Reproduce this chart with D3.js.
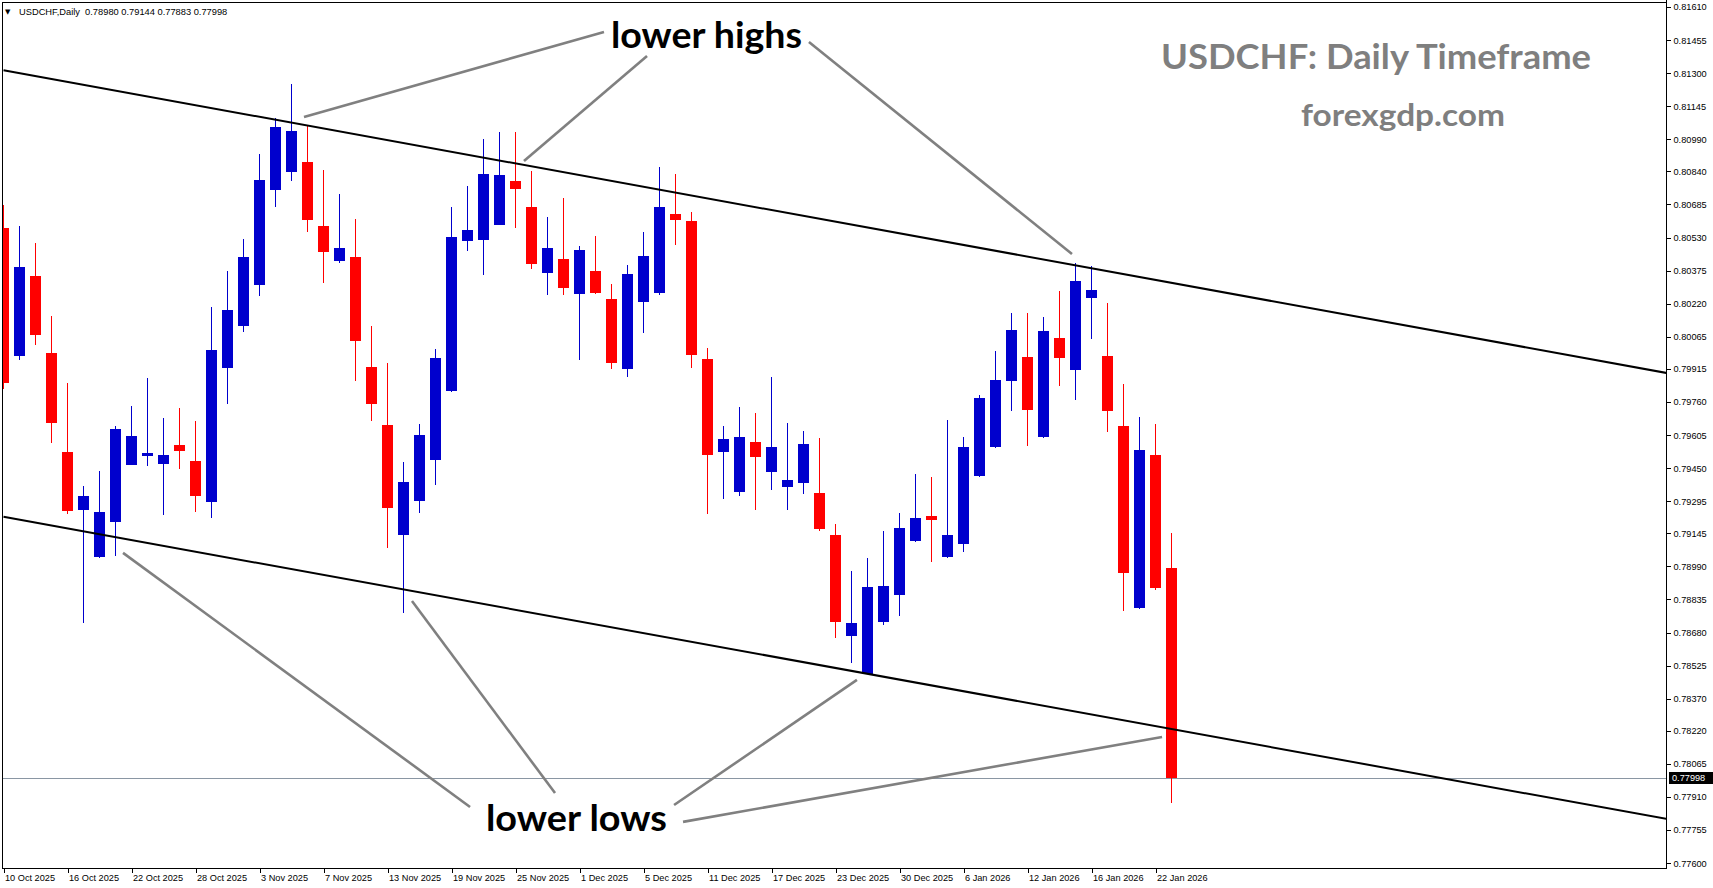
<!DOCTYPE html>
<html><head><meta charset="utf-8">
<script src="https://cdn.jsdelivr.net/npm/d3@7"></script>
<style>html,body{margin:0;padding:0;background:#fff;overflow:hidden}</style>
</head><body>
<svg id="c" width="1713" height="888"></svg>
<script>
// ---------------- data ----------------
const symbol = "USDCHF,Daily";
const dates = ["10 Oct 2025","13 Oct 2025","14 Oct 2025","15 Oct 2025","16 Oct 2025","17 Oct 2025","20 Oct 2025","21 Oct 2025","22 Oct 2025","23 Oct 2025",
"24 Oct 2025","27 Oct 2025","28 Oct 2025","29 Oct 2025","30 Oct 2025","31 Oct 2025","3 Nov 2025","4 Nov 2025","5 Nov 2025","6 Nov 2025",
"7 Nov 2025","10 Nov 2025","11 Nov 2025","12 Nov 2025","13 Nov 2025","14 Nov 2025","17 Nov 2025","18 Nov 2025","19 Nov 2025","20 Nov 2025",
"21 Nov 2025","24 Nov 2025","25 Nov 2025","26 Nov 2025","27 Nov 2025","28 Nov 2025","1 Dec 2025","2 Dec 2025","3 Dec 2025","4 Dec 2025",
"5 Dec 2025","8 Dec 2025","9 Dec 2025","10 Dec 2025","11 Dec 2025","12 Dec 2025","15 Dec 2025","16 Dec 2025","17 Dec 2025","18 Dec 2025",
"19 Dec 2025","22 Dec 2025","23 Dec 2025","24 Dec 2025","26 Dec 2025","29 Dec 2025","30 Dec 2025","31 Dec 2025","2 Jan 2026","5 Jan 2026",
"6 Jan 2026","7 Jan 2026","8 Jan 2026","9 Jan 2026","12 Jan 2026","13 Jan 2026","14 Jan 2026","15 Jan 2026","16 Jan 2026","19 Jan 2026",
"20 Jan 2026","21 Jan 2026","22 Jan 2026","23 Jan 2026"];
const open = [0.80575,0.79975,0.80350,0.79989,0.79526,0.79254,0.79034,0.79198,0.79465,0.79507,
0.79469,0.79558,0.79483,0.79291,0.79919,0.80116,0.80308,0.80753,0.80837,0.80884,
0.80584,0.80420,0.80439,0.79924,0.79652,0.79137,0.79296,0.79488,0.79811,0.80514,
0.80519,0.80589,0.80795,0.80673,0.80364,0.80430,0.80266,0.80373,0.80242,0.79914,
0.80228,0.80270,0.80640,0.80608,0.79961,0.79526,0.79338,0.79572,0.79432,0.79362,
0.79380,0.79334,0.79137,0.78664,0.78486,0.78729,0.78856,0.79109,0.79226,0.79034,
0.79095,0.79413,0.79549,0.79858,0.79971,0.79596,0.80060,0.79910,0.80247,0.79975,
0.79647,0.78795,0.79512,0.78980];
const high = [0.80683,0.80584,0.80505,0.80163,0.79849,0.79366,0.79437,0.79647,0.79741,0.79872,
0.79685,0.79732,0.79671,0.80205,0.80373,0.80523,0.80921,0.81090,0.81249,0.81053,
0.80847,0.80734,0.80617,0.80116,0.79943,0.79479,0.79657,0.80008,0.80673,0.80772,
0.80992,0.81025,0.81025,0.80842,0.80626,0.80715,0.80491,0.80538,0.80313,0.80402,
0.80556,0.80861,0.80828,0.80650,0.80013,0.79647,0.79736,0.79708,0.79877,0.79661,
0.79624,0.79591,0.79188,0.78968,0.79029,0.79156,0.79240,0.79423,0.79409,0.79676,
0.79596,0.79793,0.79999,0.80177,0.80177,0.80158,0.80280,0.80411,0.80397,0.80224,
0.79844,0.79690,0.79657,0.79144];
const low = [0.79821,0.79957,0.80027,0.79568,0.79235,0.78725,0.79030,0.79039,0.79463,0.79460,
0.79231,0.79446,0.79245,0.79216,0.79750,0.80088,0.80256,0.80673,0.80795,0.80556,
0.80317,0.80411,0.79858,0.79671,0.79076,0.78772,0.79240,0.79371,0.79808,0.80467,
0.80355,0.80587,0.80575,0.80383,0.80261,0.80261,0.79957,0.80266,0.79914,0.79877,
0.80083,0.80261,0.80495,0.79919,0.79235,0.79305,0.79320,0.79254,0.79348,0.79254,
0.79329,0.79156,0.78654,0.78537,0.78484,0.78715,0.78758,0.79105,0.79010,0.79029,
0.79057,0.79410,0.79545,0.79718,0.79554,0.79592,0.79835,0.79769,0.80055,0.79619,
0.78781,0.78790,0.78879,0.77883];
const close = [0.79849,0.80392,0.80074,0.79661,0.79249,0.79320,0.79245,0.79633,0.79601,0.79521,
0.79512,0.79530,0.79320,0.80003,0.80191,0.80439,0.80800,0.81048,0.81029,0.80612,
0.80462,0.80481,0.80046,0.79750,0.79263,0.79385,0.79605,0.79966,0.80533,0.80565,
0.80828,0.80823,0.80758,0.80406,0.80481,0.80294,0.80472,0.80270,0.79943,0.80359,
0.80444,0.80673,0.80612,0.79980,0.79512,0.79587,0.79596,0.79502,0.79549,0.79394,
0.79563,0.79165,0.78729,0.78725,0.78893,0.78898,0.79170,0.79216,0.79207,0.79137,
0.79549,0.79779,0.79863,0.80097,0.79722,0.80092,0.79966,0.80327,0.80284,0.79718,
0.78959,0.79535,0.78889,0.77998];
const priceTicks = ["0.81610","0.81455","0.81300","0.81145","0.80990","0.80840","0.80685","0.80530","0.80375",
"0.80220","0.80065","0.79915","0.79760","0.79605","0.79450","0.79295","0.79145","0.78990","0.78835",
"0.78680","0.78525","0.78370","0.78220","0.78065","0.77910","0.77755","0.77600"];
const dateTickEvery = 4;
// channel lines: [bar index, price]
const upperChannel = [[0, 0.81314], [104, 0.79895]];
const lowerChannel = [[0, 0.79222], [104, 0.77806]];
// annotations
const highsLabel = {text: "lower highs", i: 43.94, p: 0.81418, width: 191};
const lowsLabel = {text: "lower lows", i: 35.81, p: 0.77750, width: 181};
const highsPointers = [
  [[37.53, 0.81493], [18.78, 0.81095]],
  [[40.22, 0.81381], [32.53, 0.80889]],
  [[50.34, 0.81446], [66.78, 0.80453]]
];
const lowsPointers = [
  [[7.47, 0.79053], [29.16, 0.77863]],
  [[25.53, 0.78828], [34.47, 0.77928]],
  [[53.34, 0.78458], [41.91, 0.77872]],
  [[72.41, 0.78191], [42.47, 0.77793]]
];
const watermark1 = "USDCHF: Daily Timeframe";
const watermark2 = "forexgdp.com";

// ---------------- layout ----------------
const W = 1713, H = 888;
const P = {left: 2, right: 1666, top: 2, bottom: 868};
const bull = "#0000CD", bear = "#FF0000";
const axisFont = "'Liberation Sans', Arial, sans-serif";

const svg = d3.select("#c");
svg.append("rect").attr("width", W).attr("height", H).attr("fill", "#fff");

const x = d3.scaleLinear().domain([0, dates.length - 1]).range([3.5, 3.5 + 16 * (dates.length - 1)]);
const y = d3.scaleLinear().domain([0.77600, 0.81610]).range([863.1, 7.0]);

svg.append("clipPath").attr("id", "plotclip").append("rect")
  .attr("x", P.left).attr("y", P.top).attr("width", P.right - P.left).attr("height", P.bottom - P.top);

const plot = svg.append("g").attr("clip-path", "url(#plotclip)");

// current price line
const last = dates.length - 1;
plot.append("line")
  .attr("x1", P.left).attr("x2", P.right)
  .attr("y1", Math.round(y(close[last])) + 0.5).attr("y2", Math.round(y(close[last])) + 0.5)
  .attr("stroke", "#8a96a3").attr("stroke-width", 1);

// candles
const data = dates.map((d, i) => ({i, d, o: open[i], h: high[i], l: low[i], c: close[i]}));
const cg = plot.append("g").attr("shape-rendering", "crispEdges");
cg.selectAll("rect.wick").data(data).join("rect").attr("class", "wick")
  .attr("x", d => Math.floor(x(d.i)))
  .attr("width", 1)
  .attr("y", d => Math.round(y(d.h)))
  .attr("height", d => Math.max(1, Math.round(y(d.l)) - Math.round(y(d.h))))
  .attr("fill", d => d.c >= d.o ? bull : bear);
cg.selectAll("rect.body").data(data).join("rect").attr("class", "body")
  .attr("x", d => x(d.i) - 5.5)
  .attr("width", 11)
  .attr("y", d => Math.round(y(Math.max(d.o, d.c))))
  .attr("height", d => Math.max(1, Math.round(y(Math.min(d.o, d.c))) - Math.round(y(Math.max(d.o, d.c)))))
  .attr("fill", d => d.c >= d.o ? bull : bear);

// channel lines
const line = d3.line().x(d => x(d[0])).y(d => y(d[1]));
[upperChannel, lowerChannel].forEach(ch => {
  plot.append("path").attr("d", line(ch)).attr("fill", "none")
    .attr("stroke", "#000").attr("stroke-width", 2);
});

// annotation pointers
[...highsPointers, ...lowsPointers].forEach(seg => {
  plot.append("path").attr("d", line(seg)).attr("fill", "none")
    .attr("stroke", "#808080").attr("stroke-width", 2.6);
});

// annotation labels
[highsLabel, lowsLabel].forEach(lb => {
  plot.append("text").text(lb.text)
    .attr("x", x(lb.i)).attr("y", y(lb.p))
    .attr("text-anchor", "middle")
    .attr("textLength", lb.width).attr("lengthAdjust", "spacingAndGlyphs")
    .attr("font-family", "Lato, 'Open Sans', sans-serif").attr("font-weight", 700)
    .attr("font-size", 37).attr("fill", "#000");
});

// watermark
svg.append("text").text(watermark1)
  .attr("x", 1376).attr("y", 69).attr("text-anchor", "middle")
  .attr("textLength", 430).attr("lengthAdjust", "spacingAndGlyphs")
  .attr("font-family", "Lato, 'Open Sans', sans-serif").attr("font-weight", 700)
  .attr("font-size", 35).attr("fill", "#7f7f7f");
svg.append("text").text(watermark2)
  .attr("x", 1403).attr("y", 126).attr("text-anchor", "middle")
  .attr("textLength", 204).attr("lengthAdjust", "spacingAndGlyphs")
  .attr("font-family", "Lato, 'Open Sans', sans-serif").attr("font-weight", 700)
  .attr("font-size", 31).attr("fill", "#7f7f7f");

// frame
const fr = svg.append("g").attr("shape-rendering", "crispEdges").attr("stroke", "#000").attr("stroke-width", 1);
fr.append("line").attr("x1", P.left + 0.5).attr("x2", P.left + 0.5).attr("y1", P.top).attr("y2", P.bottom + 1);
fr.append("line").attr("x1", P.right + 0.5).attr("x2", P.right + 0.5).attr("y1", 0).attr("y2", P.bottom + 1);
fr.append("line").attr("x1", P.left).attr("x2", P.right + 1).attr("y1", P.top + 0.5).attr("y2", P.top + 0.5);
fr.append("line").attr("x1", P.left).attr("x2", P.right + 1).attr("y1", P.bottom + 0.5).attr("y2", P.bottom + 0.5);

// right price axis
const yAxis = d3.axisRight(y)
  .tickValues(priceTicks.map(Number))
  .tickFormat((d, i) => priceTicks[i])
  .tickSize(4).tickPadding(3);
const ya = svg.append("g").attr("transform", `translate(${P.right + 0.5},0)`).call(yAxis);
ya.select(".domain").remove();
ya.selectAll("line").attr("stroke", "#000").attr("shape-rendering", "crispEdges");
ya.selectAll("text").attr("font-family", axisFont).attr("font-size", 9.2).attr("fill", "#000");

// bottom date axis
const tickIdx = d3.range(0, dates.length, dateTickEvery);
const xAxis = d3.axisBottom(x)
  .tickValues(tickIdx)
  .tickFormat(i => dates[i])
  .tickSize(4).tickPadding(2);
const xa = svg.append("g").attr("transform", `translate(0,${P.bottom + 0.5})`).call(xAxis);
xa.select(".domain").remove();
xa.selectAll("line").attr("stroke", "#000").attr("shape-rendering", "crispEdges");
xa.selectAll("text").attr("text-anchor", "start").attr("x", 1)
  .attr("font-family", axisFont).attr("font-size", 9.2).attr("fill", "#000");

// current price tag
const cy = Math.round(y(close[last]));
svg.append("rect").attr("x", P.right + 3).attr("y", cy - 6).attr("width", W - P.right - 3).attr("height", 12).attr("fill", "#000");
svg.append("text").text(close[last].toFixed(5))
  .attr("x", P.right + 6).attr("y", cy).attr("dy", "0.35em")
  .attr("font-family", axisFont).attr("font-size", 9.2).attr("fill", "#fff");

// top-left info
svg.append("text").text("\u25BC")
  .attr("x", 5).attr("y", 14).attr("font-family", "'DejaVu Sans', sans-serif").attr("font-size", 7).attr("fill", "#000");
svg.append("text")
  .attr("x", 19).attr("y", 15).style("white-space", "pre")
  .attr("font-family", axisFont).attr("font-size", 9.3).attr("fill", "#000")
  .text(`${symbol}  ${open[last].toFixed(5)} ${high[last].toFixed(5)} ${low[last].toFixed(5)} ${close[last].toFixed(5)}`);
</script>
</body></html>
